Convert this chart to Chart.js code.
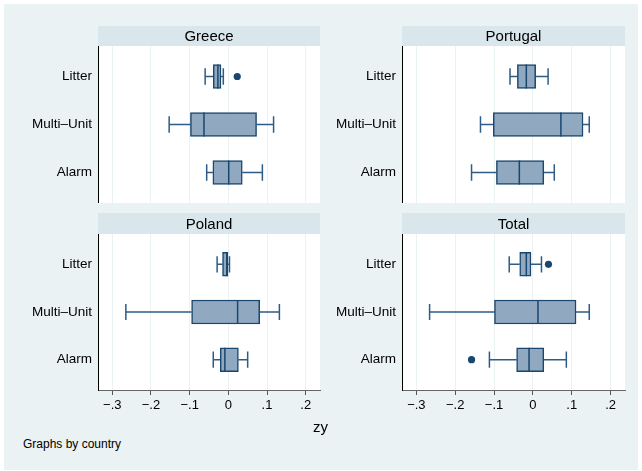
<!DOCTYPE html>
<html>
<head>
<meta charset="utf-8">
<script src="https://cdn.jsdelivr.net/npm/chart.js@4.4.1/dist/chart.umd.min.js"></script>
<style>
  html, body { margin: 0; padding: 0; background: #ffffff; }
  #frame { position: absolute; left: 4px; top: 4px; width: 634px; height: 466px; background: #EAF2F3; }
  .panel { position: absolute; }
  .txt { position: absolute; font-family: "Liberation Sans", Arial, sans-serif; color: #000; white-space: nowrap; }
</style>
</head>
<body>
<div id="frame"></div>
<div class="panel" style="left:0px;top:26px;width:322px;height:177px;"><canvas id="c0"></canvas></div>
<div class="panel" style="left:304px;top:26px;width:323px;height:177px;"><canvas id="c1"></canvas></div>
<div class="panel" style="left:0px;top:213px;width:322px;height:202px;"><canvas id="c2"></canvas></div>
<div class="panel" style="left:304px;top:213px;width:323px;height:202px;"><canvas id="c3"></canvas></div>
<div class="txt" id="xtitle" style="left:313px;top:418px;font-size:15px;">zy</div>
<div class="txt" id="note" style="left:23px;top:437px;font-size:12px;">Graphs by country</div>
<script>
// ---- data ----
const categories = ["Litter", "Multi–Unit", "Alarm"];
const countries = ["Greece", "Portugal", "Poland", "Total"];
const xTickValues = [-0.3, -0.2, -0.1, 0, 0.1, 0.2];
const xTickLabels = ["−.3", "−.2", "−.1", "0", ".1", ".2"];

// per country: [Litter, Multi-Unit, Alarm], each [whiskerLow, q1, median, q3, whiskerHigh]
const greece   = [[-0.060, -0.039, -0.027, -0.019, -0.013], [-0.153, -0.098, -0.063, 0.073, 0.117], [-0.056, -0.040, 0.001, 0.036, 0.088]];
const portugal = [[-0.059, -0.040, -0.017, 0.007, 0.039], [-0.135, -0.102, 0.072, 0.129, 0.145], [-0.158, -0.094, -0.035, 0.028, 0.055]];
const poland   = [[-0.029, -0.015, -0.004, -0.001, 0.003], [-0.265, -0.095, 0.024, 0.081, 0.132], [-0.039, -0.021, -0.009, 0.026, 0.050]];
const total    = [[-0.061, -0.034, -0.017, -0.005, 0.022], [-0.266, -0.099, 0.013, 0.111, 0.145], [-0.112, -0.042, -0.010, 0.028, 0.086]];
// outliers: [categoryIndex, value]
const greeceOut   = [[0, 0.023]];
const portugalOut = [];
const polandOut   = [];
const totalOut    = [[0, 0.040], [2, -0.158]];

const stats = [greece, portugal, poland, total];
const outs = [greeceOut, portugalOut, polandOut, totalOut];

// ---- style ----
const FONT = '"Liberation Sans", Arial, sans-serif';
const FILL = '#90A8C0';
const LINE = '#1A476F';
const WHISK = '#2E5C86';
const GRID = '#EAF2F3';
const STRIP = '#D9E6EB';

const stripPlugin = {
  id: 'strip',
  beforeDraw(chart, args, opts) {
    const ctx = chart.ctx, a = chart.chartArea;
    ctx.save();
    ctx.fillStyle = '#ffffff';
    ctx.fillRect(a.left, a.top, a.right - a.left, a.bottom - a.top);
    ctx.fillStyle = STRIP;
    ctx.fillRect(a.left, 0, a.right - a.left, opts.h);
    ctx.fillStyle = '#000';
    ctx.font = '15px ' + FONT;
    ctx.textAlign = 'center';
    ctx.textBaseline = 'middle';
    ctx.fillText(opts.text, (a.left + a.right) / 2, opts.h / 2 + 1);
    ctx.restore();
  }
};

function makePanel(idx, bottomAxis) {
  const s = stats[idx];
  const boxes = s.map((d, i) => ({ y: i + 1, x: [d[1], d[3]] }));
  const whisk = [];
  const caps = [];
  const meds = [];
  s.forEach((d, i) => {
    const y = i + 1;
    whisk.push({ x: d[0], y }, { x: d[1], y }, { x: null, y: null }, { x: d[3], y }, { x: d[4], y }, { x: null, y: null });
    caps.push({ x: d[0], y: y - 0.17 }, { x: d[0], y: y + 0.17 }, { x: null, y: null },
              { x: d[4], y: y - 0.17 }, { x: d[4], y: y + 0.17 }, { x: null, y: null });
    meds.push({ x: d[2], y: y - 0.25 }, { x: d[2], y: y + 0.25 }, { x: null, y: null });
  });
  const outPts = outs[idx].map(o => ({ x: o[1], y: o[0] + 1 }));
  const padTop = bottomAxis ? 21 : 20;
  const lineDs = (data, color, order) => ({
    type: 'line', data, borderColor: color, borderWidth: 1.5, pointRadius: 0,
    spanGaps: false, tension: 0, order, fill: false
  });
  new Chart(document.getElementById('c' + idx), {
    type: 'bar',
    data: {
      datasets: [
        lineDs(meds, LINE, 1),
        { type: 'scatter', data: outPts, pointRadius: 3.6, pointBackgroundColor: LINE, pointBorderColor: LINE, borderWidth: 0, order: 0 },
        lineDs(caps, WHISK, 3),
        lineDs(whisk, WHISK, 4),
        { type: 'bar', data: boxes, backgroundColor: FILL, borderColor: LINE, borderWidth: 1.5,
          borderSkipped: false, barThickness: 24, order: 2 }
      ]
    },
    plugins: [stripPlugin],
    options: {
      indexAxis: 'y',
      responsive: true,
      maintainAspectRatio: false,
      animation: false,
      events: [],
      layout: { autoPadding: false, padding: { top: padTop, right: 2, left: 0, bottom: 0 } },
      plugins: {
        legend: { display: false },
        tooltip: { enabled: false },
        strip: { text: countries[idx], h: padTop }
      },
      scales: {
        x: {
          type: 'linear', min: -0.337, max: 0.237, offset: false,
          afterBuildTicks(sc) { sc.ticks = xTickValues.map(v => ({ value: v })); },
          afterFit(sc) { sc.height = bottomAxis ? 25 : 0; sc.paddingLeft = 0; sc.paddingRight = 0; },
          grid: { color: GRID, lineWidth: 1, drawTicks: bottomAxis, tickLength: 5, tickColor: '#555555', offset: false },
          border: { display: bottomAxis, color: '#666666', width: 1 },
          ticks: {
            display: bottomAxis, padding: 3, color: '#000',
            font: { family: FONT, size: 13 },
            maxRotation: 0, autoSkip: false,
            callback: (v) => { const k = xTickValues.findIndex(t => Math.abs(t - v) < 1e-9); return k >= 0 ? xTickLabels[k] : ''; }
          }
        },
        y: {
          type: 'linear', min: 0.365, max: 3.635, reverse: true, offset: false,
          afterBuildTicks(sc) { sc.ticks = categories.map((c, i) => ({ value: i + 1 })); },
          afterFit(sc) { sc.width = 98; sc.paddingTop = 0; sc.paddingBottom = 0; },
          grid: { display: false, drawTicks: false, offset: false },
          border: { display: true, color: '#000000', width: 1 },
          ticks: {
            padding: 6, color: '#000',
            font: { family: FONT, size: 13.5 },
            callback: (v) => categories[Math.round(v) - 1] || ''
          }
        }
      }
    }
  });
}

makePanel(0, false);
makePanel(1, false);
makePanel(2, true);
makePanel(3, true);
</script>
</body>
</html>
